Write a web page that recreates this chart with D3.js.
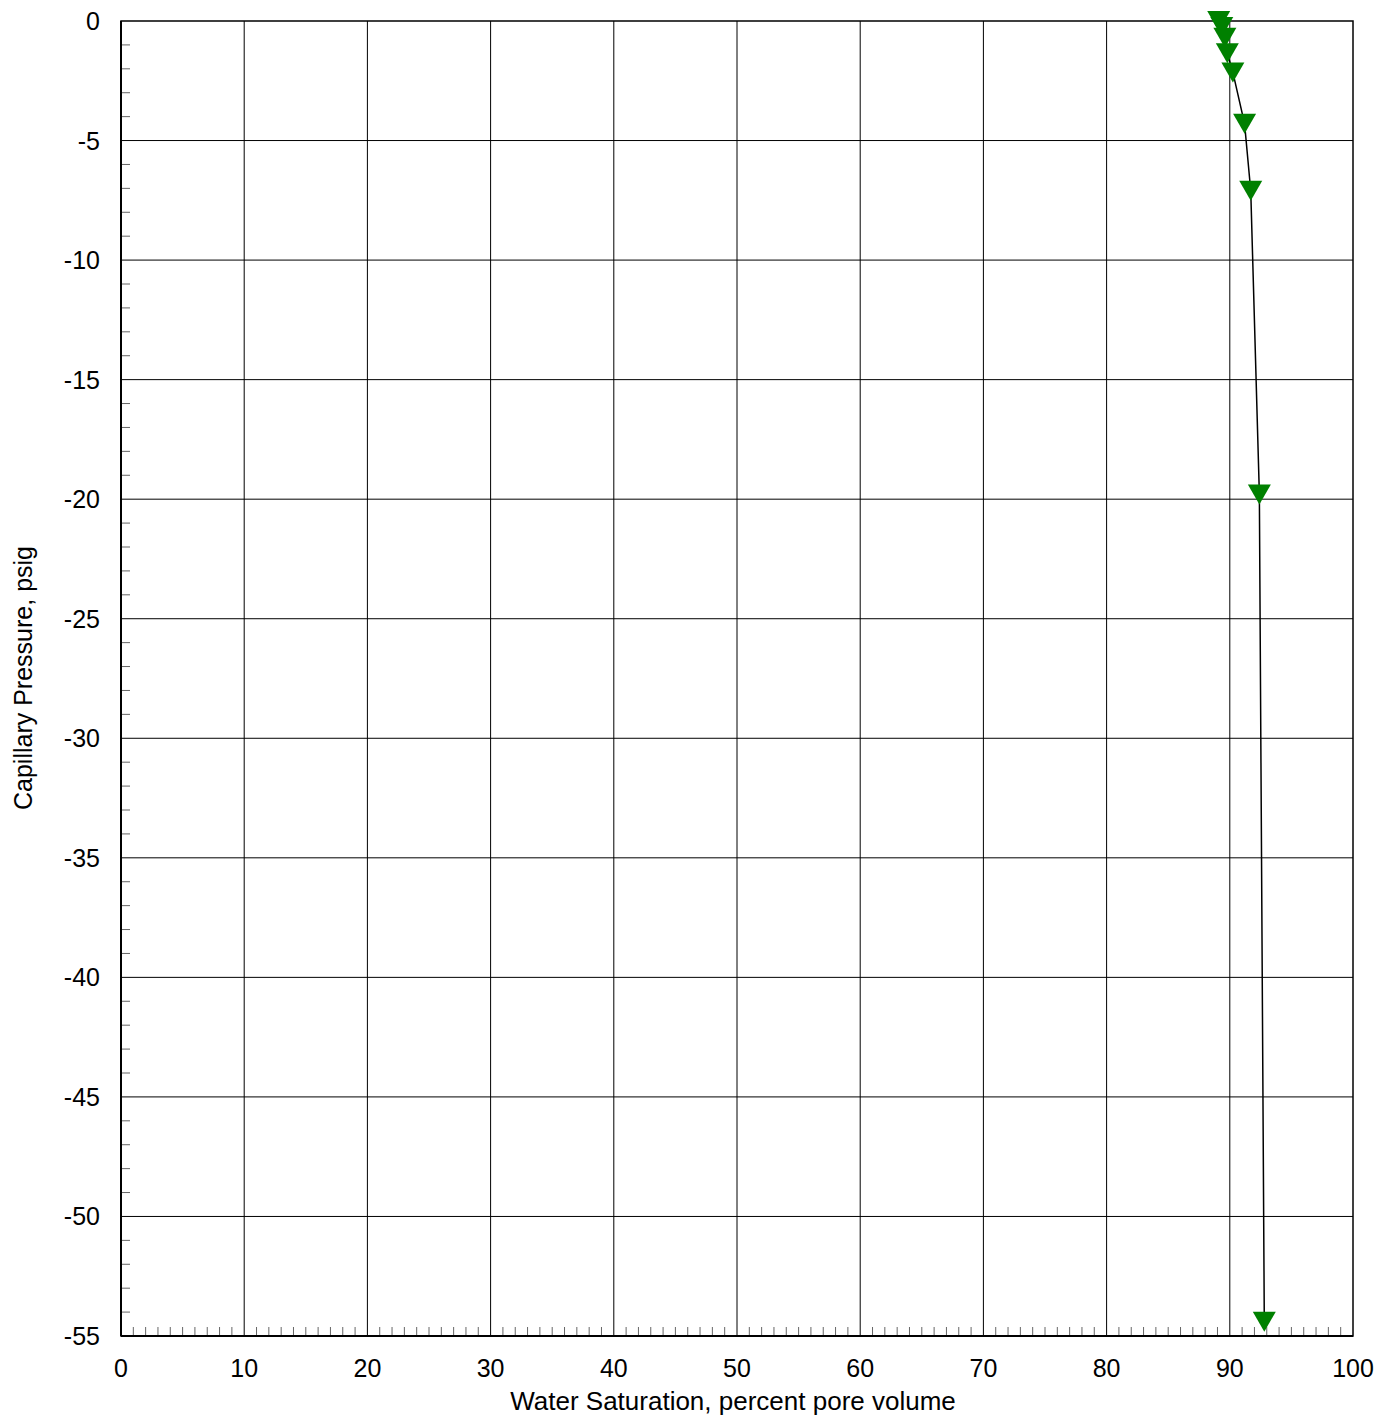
<!DOCTYPE html>
<html>
<head>
<meta charset="utf-8">
<script src="https://cdn.jsdelivr.net/npm/d3@7"></script>
<style>
  body { margin: 0; background: #fff; }
  svg text { font-family: "Liberation Sans", Arial, sans-serif; fill: #000; }
</style>
</head>
<body>
<div id="chart"></div>
<script>
// water saturation (% pore volume) and capillary pressure (psig)
const saturation = [89.1, 89.35, 89.6, 89.8, 90.25, 91.2, 91.7, 92.4, 92.8];
const pressure = [0, -0.25, -0.7, -1.35, -2.15, -4.3, -7.1, -19.8, -54.4];
const xTicks = [0, 10, 20, 30, 40, 50, 60, 70, 80, 90, 100];
const yTicks = [0, -5, -10, -15, -20, -25, -30, -35, -40, -45, -50, -55];

const width = 1380, height = 1416;
const plotLeft = 121, plotRight = 1353, plotTop = 21, plotBottom = 1336;

const svg = d3.select("#chart").append("svg")
  .attr("width", width)
  .attr("height", height);

const x = d3.scaleLinear().domain([0, 100]).range([plotLeft, plotRight]);
const y = d3.scaleLinear().domain([-55, 0]).range([plotBottom, plotTop]);

// gridlines
svg.append("g").selectAll("line")
  .data(xTicks.slice(1, -1))
  .enter().append("line")
  .attr("x1", d => x(d)).attr("x2", d => x(d))
  .attr("y1", plotTop).attr("y2", plotBottom)
  .attr("stroke", "#000").attr("stroke-width", 1);

svg.append("g").selectAll("line")
  .data(yTicks.slice(1, -1))
  .enter().append("line")
  .attr("x1", plotLeft).attr("x2", plotRight)
  .attr("y1", d => y(d)).attr("y2", d => y(d))
  .attr("stroke", "#000").attr("stroke-width", 1);

// minor ticks, drawn inward
const xMinor = d3.range(1, 100).filter(d => d % 10 !== 0);
svg.append("g").selectAll("line")
  .data(xMinor)
  .enter().append("line")
  .attr("x1", d => x(d)).attr("x2", d => x(d))
  .attr("y1", plotBottom).attr("y2", plotBottom - 9)
  .attr("stroke", "#666").attr("stroke-width", 1);

const yMinor = d3.range(-54, 0).filter(d => d % 5 !== 0);
svg.append("g").selectAll("line")
  .data(yMinor)
  .enter().append("line")
  .attr("x1", plotLeft).attr("x2", plotLeft + 9)
  .attr("y1", d => y(d)).attr("y2", d => y(d))
  .attr("stroke", "#666").attr("stroke-width", 1);

// plot border
svg.append("rect")
  .attr("x", plotLeft).attr("y", plotTop)
  .attr("width", plotRight - plotLeft).attr("height", plotBottom - plotTop)
  .attr("fill", "none").attr("stroke", "#000").attr("stroke-width", 1.5);
svg.append("line")
  .attr("x1", plotLeft).attr("x2", plotLeft).attr("y1", plotTop).attr("y2", plotBottom)
  .attr("stroke", "#000").attr("stroke-width", 2);
svg.append("line")
  .attr("x1", plotLeft).attr("x2", plotRight).attr("y1", plotBottom).attr("y2", plotBottom)
  .attr("stroke", "#000").attr("stroke-width", 2);

// tick labels
svg.append("g").selectAll("text")
  .data(xTicks)
  .enter().append("text")
  .attr("x", d => x(d))
  .attr("y", plotBottom + 41)
  .attr("text-anchor", "middle")
  .attr("font-size", "25px")
  .text(d => d);

svg.append("g").selectAll("text")
  .data(yTicks)
  .enter().append("text")
  .attr("x", plotLeft - 21)
  .attr("y", d => y(d) + 9)
  .attr("text-anchor", "end")
  .attr("font-size", "25px")
  .text(d => d === 0 ? "0" : "-" + Math.abs(d));

// axis titles
svg.append("text")
  .attr("x", 733)
  .attr("y", 1410)
  .attr("text-anchor", "middle")
  .attr("font-size", "26px")
  .text("Water Saturation, percent pore volume");

svg.append("text")
  .attr("transform", `translate(32, 678) rotate(-90)`)
  .attr("text-anchor", "middle")
  .attr("font-size", "25px")
  .text("Capillary Pressure, psig");

// data
const pts = saturation.map((s, i) => [s, pressure[i]]);
const line = d3.line().x(d => x(d[0])).y(d => y(d[1]));

svg.append("path")
  .datum(pts)
  .attr("d", line)
  .attr("fill", "none")
  .attr("stroke", "#000")
  .attr("stroke-width", 1.5);

svg.append("g").selectAll("path")
  .data(pts)
  .enter().append("path")
  .attr("transform", d => `translate(${x(d[0])}, ${y(d[1])})`)
  .attr("d", "M-11.5,-10 L11.5,-10 L0,10 Z")
  .attr("fill", "#008000");
</script>
</body>
</html>
